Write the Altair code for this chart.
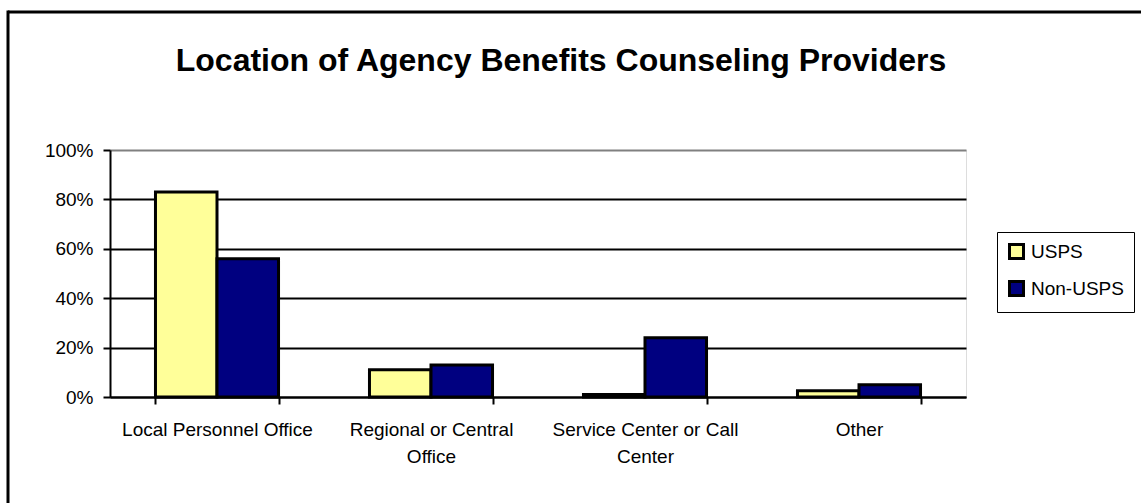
import altair as alt
import pandas as pd

# Share of respondents by where their agency's benefits counseling provider sits
categories = [
    "Local Personnel Office",
    "Regional or Central Office",
    "Service Center or Call Center",
    "Other",
]
label_lines = [
    ["Local Personnel Office"],
    ["Regional or Central", "Office"],
    ["Service Center or Call", "Center"],
    ["Other"],
]
groups = ["USPS", "Non-USPS"]
usps = [0.83, 0.11, 0.01, 0.025]
non_usps = [0.56, 0.13, 0.24, 0.05]
group_colors = ["#FFFF99", "#000080"]

rows = []
for cat, u, n in zip(categories, usps, non_usps):
    rows.append({"category": cat, "group": "USPS", "value": u})
    rows.append({"category": cat, "group": "Non-USPS", "value": n})
df = pd.DataFrame(rows)

# multi-line axis labels
label_expr = ""
for cat, lines in zip(categories, label_lines):
    arr = "[" + ", ".join("'" + s + "'" for s in lines) + "]"
    label_expr += f"datum.value == '{cat}' ? {arr} : "
label_expr += "datum.label"

FONT = "Liberation Sans"

bars = alt.Chart(df).mark_bar(stroke="black", strokeWidth=3).encode(
    x=alt.X(
        "category:N",
        sort=categories,
        scale=alt.Scale(paddingInner=0.425, paddingOuter=0.2125),
        axis=alt.Axis(
            title=None,
            labelAngle=0,
            labelExpr=label_expr,
            labelFont=FONT,
            labelFontSize=19,
            labelColor="black",
            labelLineHeight=27,
            labelPadding=16,
            labelBaseline="top",
            labelLimit=400,
            tickBand="extent",
            tickSize=7,
            tickWidth=2,
            tickColor="black",
            domainColor="black",
            domainWidth=2,
            grid=False,
        ),
    ),
    xOffset=alt.XOffset(
        "group:N", sort=groups, scale=alt.Scale(paddingInner=0, paddingOuter=0)
    ),
    y=alt.Y(
        "value:Q",
        scale=alt.Scale(domain=[0, 1], nice=False),
        axis=alt.Axis(
            title=None,
            values=[0, 0.2, 0.4, 0.6, 0.8, 1.0],
            format=".0%",
            labelFont=FONT,
            labelFontSize=19,
            labelColor="black",
            labelPadding=10,
            tickSize=7,
            tickWidth=2,
            tickColor="black",
            domainColor="black",
            domainWidth=2,
            grid=True,
            gridColor={"condition": {"test": "datum.value >= 1", "value": "#808080"}, "value": "black"},
            gridWidth=2,
        ),
    ),
    color=alt.Color(
        "group:N",
        sort=groups,
        scale=alt.Scale(domain=groups, range=group_colors),
        legend=alt.Legend(
            title=None,
            orient="none",
            legendX=887,
            legendY=82,
            symbolType="square",
            symbolSize=196,
            symbolStrokeColor="black",
            symbolStrokeWidth=3,
            symbolOpacity=1,
            labelFont=FONT,
            labelFontSize=19,
            labelColor="black",
            labelBaseline="middle",
            labelOffset=5,
            rowPadding=10,
            padding=10,
            strokeColor="black",
            fillColor="white",
            cornerRadius=0,
        ),
    ),
)

# outer chart border: top and left edges
edge = pd.DataFrame({"k": [0]})
frame_top = alt.Chart(edge).mark_rule(color="black", strokeWidth=3).encode(
    x=alt.value(-102), x2=alt.value(1031), y=alt.value(-138)
)
frame_left = alt.Chart(edge).mark_rule(color="black", strokeWidth=3).encode(
    x=alt.value(-102), y=alt.value(-139.5), y2=alt.value(360)
)

chart = alt.layer(frame_top, frame_left, bars).properties(
    width=856,
    height=247,
    autosize=alt.AutoSizeParams(type="none"),
    padding={"left": 110, "top": 150, "right": 175, "bottom": 106},
    title=alt.TitleParams(
        "Location of Agency Benefits Counseling Providers",
        font=FONT,
        fontSize=32,
        fontWeight="bold",
        color="black",
        anchor="middle",
        baseline="alphabetic",
        dx=23,
        dy=33,
        offset=-61,
    ),
).configure_view(stroke="#808080", strokeWidth=3).configure(background="white")

chart.save("out.html", embed_options={"renderer": "svg", "actions": False})
